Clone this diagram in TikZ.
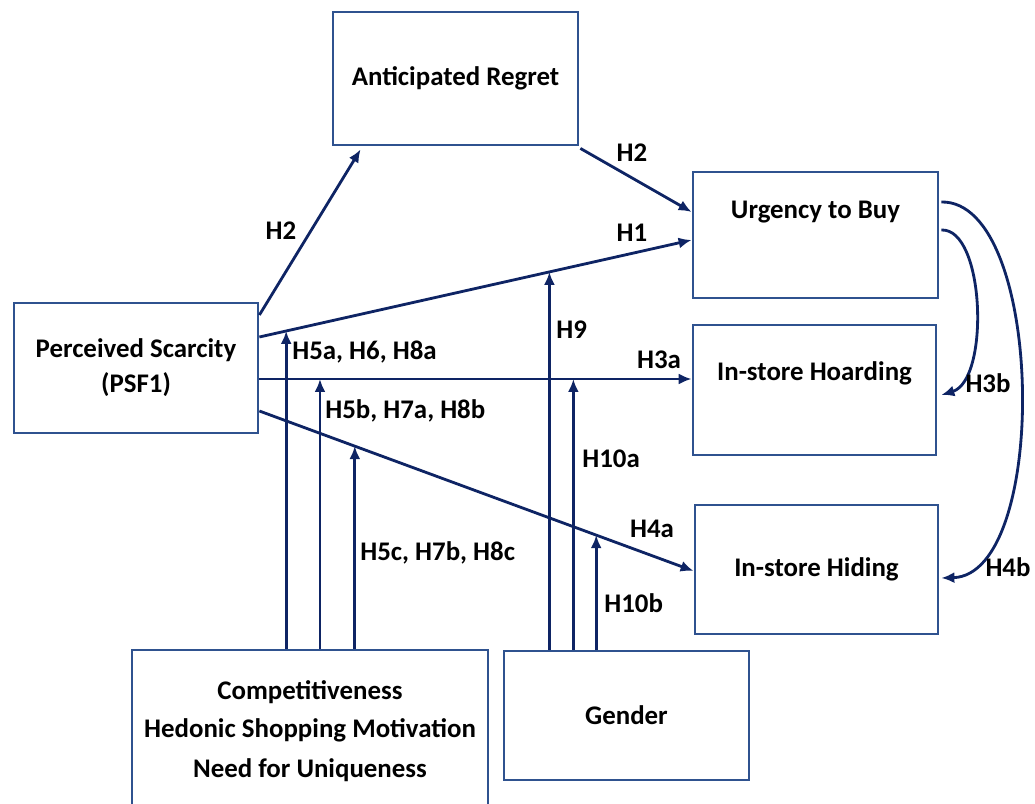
\documentclass[tikz,border=0pt]{standalone}
\usepackage{fontspec}
\setmainfont{Carlito}
\usetikzlibrary{arrows.meta, calc}
\definecolor{boxblue}{RGB}{47,82,143}
\definecolor{arrowblue}{RGB}{14,36,100}
\tikzstyle{every node} = [align = center, font = \bfseries\fontsize{15.3}{20}\selectfont]
\tikzstyle{construct} = [draw = boxblue, line width = 1.6pt, inner sep = 0pt, minimum width = 4.88cm, minimum height = 2.6cm]
\tikzstyle{hyp} = [draw = arrowblue, line width = 1.6pt, -{Latex[length = 2.6mm, width = 2.2mm]}]
\tikzstyle{hlabel} = [anchor = west, inner sep = 0pt]

\begin{document}
\begin{tikzpicture}[x = 0.02cm, y = -0.02cm]
        \useasboundingbox (0, 0) rectangle (1035, 804);
        % constructs
        \node [construct, minimum width = 4.9cm, minimum height = 2.66cm] (regret) at (455.5, 78.5) {Anticipated Regret};
        \node [construct, minimum width = 4.9cm, minimum height = 2.52cm, text depth = 1cm] (urgency) at (815.5, 235) {Urgency to Buy};
        \node [construct] (scarcity) at (136, 368) {Perceived Scarcity\\(PSF1)};
        \node [construct, minimum width = 4.86cm, text depth = 0.76cm] (hoarding) at (814.5, 390) {In-store Hoarding};
        \node [construct, minimum width = 4.86cm, minimum height = 2.58cm] (hiding) at (816.5, 569.5) {In-store Hiding};
        \node [construct, minimum width = 7.12cm, minimum height = 3.24cm] (traits) at (310, 731) {Competitiveness\\[1.5pt]Hedonic Shopping Motivation\\[2.7pt]Need for Uniqueness};
        \node [construct, minimum width = 4.9cm, minimum height = 2.58cm] (gender) at (626.5, 715.5) {Gender};
        % direct paths
        \draw [hyp] ($(scarcity.east) + (0, -53)$) -- ($(regret.south west) + (29, 3)$);
        \draw [hyp] ($(regret.south east) + (1, 2)$) -- ($(urgency.west) + (0, -23)$);
        \draw [hyp] ($(scarcity.east) + (0, -31)$) -- ($(urgency.west) + (0, 5)$)
            coordinate [pos = 0.062] (m1) coordinate [pos = 0.671] (m4);
        \draw [hyp] ($(scarcity.east) + (0, 11)$) -- ($(hoarding.west) + (0, -11)$)
            coordinate [pos = 0.1402] (m2) coordinate [pos = 0.7264] (m5);
        \draw [hyp] ($(scarcity.east) + (0, 43)$) -- ($(hiding.west) + (0, 1.5)$)
            coordinate [pos = 0.2197] (m3) coordinate [pos = 0.7757] (m6);
        \draw [hyp] ($(urgency.east) + (2, -5)$) .. controls (985, 228) and (990, 380) .. ($(hoarding.east) + (4, 5)$);
        \draw [hyp] ($(urgency.east) + (2, -33)$) .. controls (1045, 200) and (1050, 575) .. ($(hiding.east) + (2, 8.5)$);
        % moderators
        \draw [hyp] (m1 |- traits.north) -- (m1);
        \draw [hyp] (m2 |- traits.north) -- (m2);
        \draw [hyp] (m3 |- traits.north) -- (m3);
        \draw [hyp] (m4 |- gender.north) -- (m4);
        \draw [hyp] (m5 |- gender.north) -- (m5);
        \draw [hyp] (m6 |- gender.north) -- (m6);
        % labels
        \node (lh2a) at (281, 231) {H2};
        \node (lh2b) at (632, 153) {H2};
        \node (lh1) at (632, 233) {H1};
        \node (lh3a) at (659, 360) {H3a};
        \node (lh4a) at (652, 529) {H4a};
        \node (lh3b) at (988, 383) {H3b};
        \node (lh4b) at (1008, 567) {H4b};
        \node [hlabel] (lh5a) at (292, 352) {H5a, H6, H8a};
        \node [hlabel] (lh5b) at (325, 411) {H5b, H7a, H8b};
        \node [hlabel] (lh5c) at (360, 553) {H5c, H7b, H8c};
        \node [hlabel] (lh9) at (556, 330) {H9};
        \node [hlabel] (lh10a) at (582, 459) {H10a};
        \node [hlabel] (lh10b) at (604, 603) {H10b};
    \end{tikzpicture}
\end{document}
